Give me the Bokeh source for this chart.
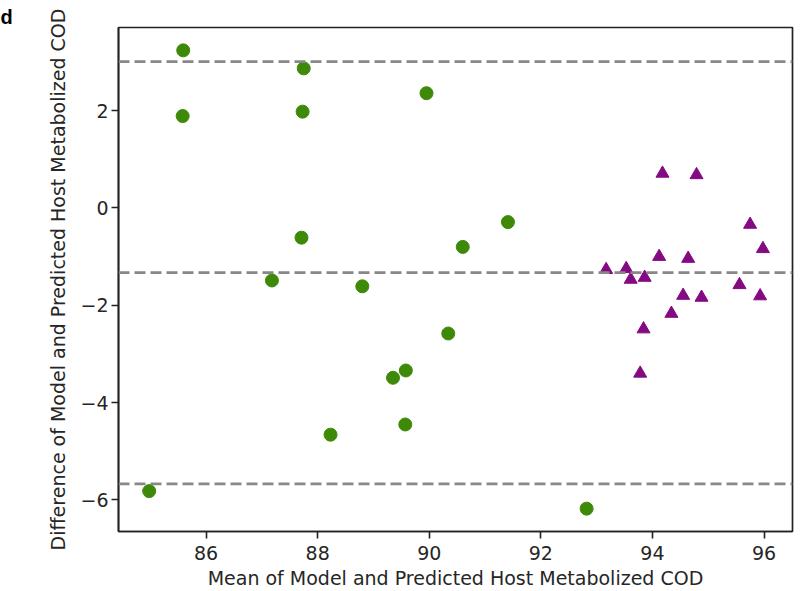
from bokeh.plotting import figure
from bokeh.models import Span, FixedTicker, CustomJSTickFormatter, ColumnDataSource, Range1d, Title
from bokeh.embed import file_html
from bokeh.resources import INLINE

# ---- data ----
green_x = [85.59, 85.58, 87.75, 87.73, 87.71, 89.95, 91.41, 90.60, 87.18, 88.23,
           84.98, 88.80, 90.34, 89.58, 89.35, 89.57, 92.82]
green_y = [3.24, 1.89, 2.87, 1.98, -0.61, 2.36, -0.29, -0.80, -1.49, -4.66,
           -5.82, -1.61, -2.58, -3.34, -3.49, -4.45, -6.18]

purple_x = [94.18, 94.79, 95.75, 95.98, 94.12, 94.64, 93.17, 93.53, 93.61, 93.86,
            95.56, 95.93, 94.55, 94.88, 94.34, 93.84, 93.78]
purple_y = [0.71, 0.68, -0.34, -0.84, -1.00, -1.04, -1.27, -1.25, -1.47, -1.43,
            -1.58, -1.81, -1.80, -1.84, -2.17, -2.49, -3.40]

mean_diff = -1.33
upper_loa = 3.01
lower_loa = -5.67

x_ticks = [86, 88, 90, 92, 94, 96]
y_ticks = [-6, -4, -2, 0, 2]
x_range = (84.43, 96.51)
y_range = (-6.65, 3.71)

x_label = "Mean of Model and Predicted Host Metabolized COD"
y_label = "Difference of Model and Predicted Host Metabolized COD"
panel_letter = "d"

# ---- figure ----
FONT = "DejaVu Sans"
TXT = "#262626"
p = figure(width=800, height=591, output_backend="svg", toolbar_location=None,
           x_range=Range1d(*x_range), y_range=Range1d(*y_range))
p.min_border_left = 118
p.min_border_right = 8
p.min_border_top = 27
p.min_border_bottom = 60
p.background_fill_color = "white"
p.border_fill_color = "white"
p.grid.visible = False
p.outline_line_color = "#222222"
p.outline_line_width = 1.7

for ax in (p.xaxis[0], p.yaxis[0]):
    ax.axis_line_color = "#222222"
    ax.axis_line_width = 1.7
    ax.major_tick_line_color = "#222222"
    ax.major_tick_line_width = 1.6
    ax.major_tick_out = 7
    ax.major_tick_in = 0
    ax.minor_tick_line_color = None
    ax.major_label_text_font = FONT
    ax.major_label_text_font_size = "19px"
    ax.major_label_text_color = TXT
    ax.axis_label_text_font = FONT
    ax.axis_label_text_font_size = "19px"
    ax.axis_label_text_font_style = "normal"
    ax.axis_label_text_color = TXT

p.xaxis[0].ticker = FixedTicker(ticks=x_ticks)
p.yaxis[0].ticker = FixedTicker(ticks=y_ticks)
p.yaxis[0].formatter = CustomJSTickFormatter(code="return String(tick).replace('-', '\\u2212');")
p.xaxis[0].major_label_standoff = 7
p.xaxis[0].axis_label_standoff = 4
p.yaxis[0].major_label_standoff = 3
p.yaxis[0].axis_label_standoff = 8
p.xaxis[0].axis_label = x_label
p.yaxis[0].axis_label = y_label

# panel letter as a left-aligned title pulled to the canvas' left edge
p.add_layout(Title(text=panel_letter, align="left", offset=-118, standoff=0,
                   text_font="Liberation Sans", text_font_style="bold",
                   text_font_size="20px", text_line_height=1.0,
                   text_color="black"), "above")

# limit-of-agreement lines
for loc in (upper_loa, mean_diff, lower_loa):
    p.add_layout(Span(location=loc, dimension="width", line_color="#888888",
                      line_width=2.7, line_dash="11 5"))

green_src = ColumnDataSource(dict(x=green_x, y=green_y))
purple_src = ColumnDataSource(dict(x=purple_x, y=purple_y))
p.scatter("x", "y", source=green_src, marker="circle", size=13,
          fill_color="#3e8a08", line_color="#3e8a08")
p.scatter("x", "y", source=purple_src, marker="triangle", size=13,
          fill_color="#840a84", line_color="#840a84")

open("out.html", "w").write(file_html(p, INLINE))
